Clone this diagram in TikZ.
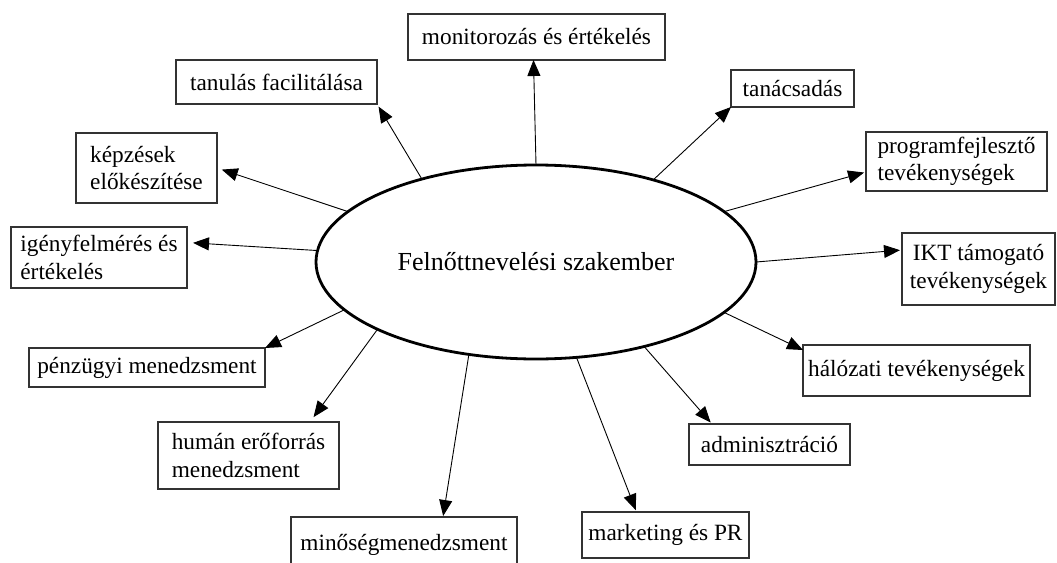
\documentclass[tikz,border=0pt]{standalone}
\usepackage{fontspec}
\setmainfont{Liberation Serif}
\usetikzlibrary{arrows.meta,shapes.geometric}
\begin{document}
\begin{tikzpicture}[x=1pt, y=-1pt, >={Triangle[length=16pt,width=13pt]},
     font=\fontsize{23.3}{27.5}\selectfont,
     every node/.style = {outer sep = 0pt, inner sep = 0pt,
     draw=black!80, line width=1.3pt},
     role/.style = {minimum width=#1},
     link/.style = {->, line width=0.9pt, black}]
    \useasboundingbox (0,0) rectangle (1057,562);
    \clip (0,0) rectangle (1057,562);
        \node [ellipse, line width=2.8pt, draw=black, minimum width=440pt,
                minimum height=194pt, font=\fontsize{26}{30}\selectfont]
            at (536,262) (ell) {Felnőttnevelési szakember};
        \node [role=257pt, minimum height=46pt]
            at (536.5,37)  (mon) {monitorozás és értékelés};
        \node [role=201pt, minimum height=44pt]
            at (276.5,82)  (fac) {tanulás facilitálása};
        \node [role=123pt, minimum height=37pt]
            at (792.5,88.5) (tac) {tanácsadás};
        \node [role=141pt, minimum height=70pt, align=left]
            at (146.5,168) (kep) {képzések\\előkészítése};
        \node [role=181pt, minimum height=59pt, align=left]
            at (956.5,161.5) (prog) {programfejlesztő\\tevékenységek};
        \node [role=176pt, minimum height=61pt, align=left]
            at (99,257.5)  (ige) {igényfelmérés és\\értékelés};
        \node [role=153pt, minimum height=72pt, align=center]
            at (978.5,269) (ikt) {IKT támogató\\tevékenységek};
        \node [role=236pt, minimum height=39pt]
            at (147,367.5) (pen) {pénzügyi menedzsment};
        \node [role=227pt, minimum height=51pt]
            at (916.5,370.5) (hal) {hálózati tevékenységek};
        \node [role=181pt, minimum height=67pt, align=left]
            at (248.5,455.5) (hum) {humán erőforrás\\menedzsment};
        \node [role=161pt, minimum height=41pt]
            at (769.5,444.5) (adm) {adminisztráció};
        \node [role=226pt, minimum height=56pt]
            at (404,545)   (min) {minőségmenedzsment};
        \node [role=167pt, minimum height=46pt]
            at (665.5,535) (mar) {marketing és PR};

        \draw [link] (ell.90)    -- ([xshift=-3pt]mon.south);
        \draw [link, shorten >=3pt] (ell.144.5) -- (fac.south east);
        \draw [link] (ell.35.7)  -- (tac.south west);
        \draw [link, shorten >=5pt] (ell.165.4) -- (kep.east);
        \draw [link, shorten >=2pt] (ell.15)   -- ([yshift=-10.5pt]prog.west);
        \draw [link, shorten >=6pt] (ell.177.4) -- ([yshift=15pt]ige.east);
        \draw [link, shorten >=2pt] (ell.0)    -- ([yshift=19pt]ikt.west);
        \draw [link] (ell.194.1) -- (pen.north east);
        \draw [link] (ell.345.5) -- ([yshift=-5pt]hal.north west);
        \draw [link, shorten >=6pt] (ell.203.2) -- ([xshift=-29pt]hum.north east);
        \draw [link, shorten >=2pt] (ell.322)  -- ([xshift=23pt]adm.north west);
        \draw [link, shorten >=1pt] (ell.234.9) -- ([xshift=39pt]min.north);
        \draw [link, shorten >=2pt] (ell.293.6) -- ([xshift=-29pt]mar.north);
\end{tikzpicture}
\end{document}
